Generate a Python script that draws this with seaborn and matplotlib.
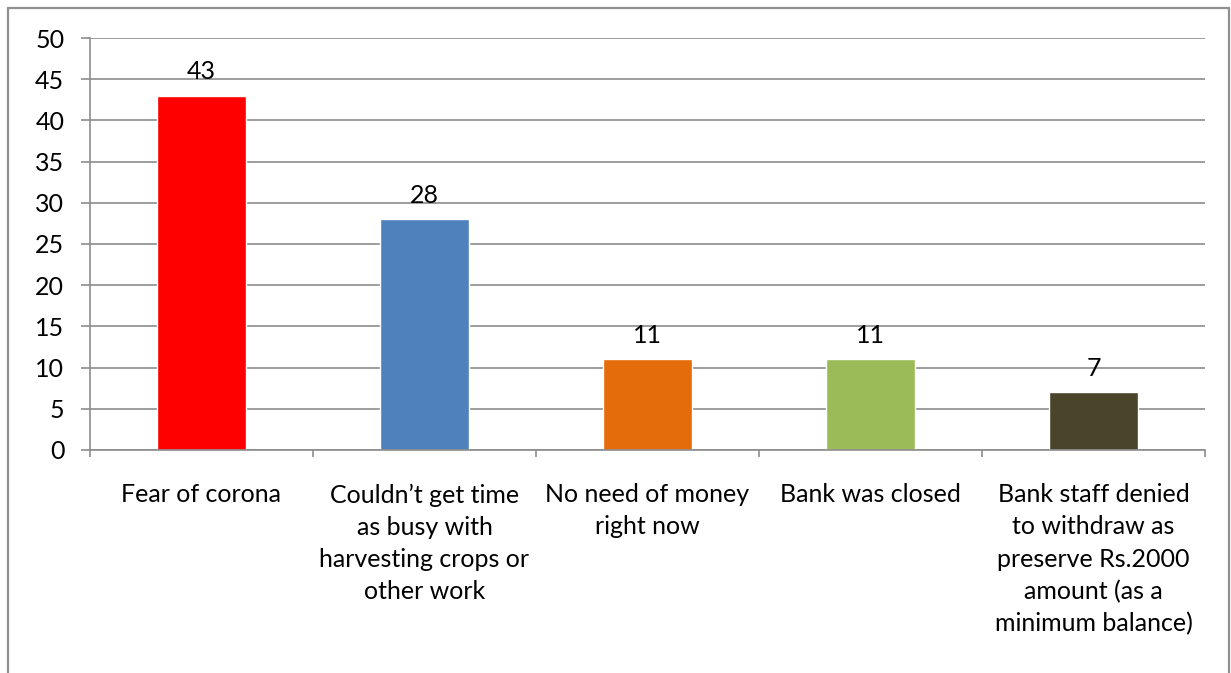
import matplotlib.pyplot as plt
import seaborn as sns
import pandas as pd
from matplotlib.lines import Line2D

categories = ["Fear of corona",
              "Couldn\u2019t get time\nas busy with\nharvesting crops or\nother work",
              "No need of money\nright now",
              "Bank was closed",
              "Bank staff denied\nto withdraw as\npreserve Rs.2000\namount (as a\nminimum balance)"]
values = [43, 28, 11, 11, 7]
colors = ["#FF0000", "#4F81BD", "#E46C0A", "#9BBB59", "#4A452A"]
y_ticks = [0, 5, 10, 15, 20, 25, 30, 35, 40, 45, 50]

sns.set_theme(style="white")
plt.rcParams['font.family'] = ['Lato', 'DejaVu Sans']

df = pd.DataFrame({"reason": categories, "count": values})

fig = plt.figure(figsize=(12.31, 6.73), dpi=100)
ax = fig.add_axes([0.0731, 0.3314, 0.9058, 0.6121])

sns.barplot(data=df, x="reason", y="count", hue="reason", palette=colors,
            width=0.4, legend=False, ax=ax, saturation=1)

fs = 18
grid_c = "#8c8c8c"
ax.set_ylim(0, 50)
ax.set_xlim(-0.5, len(categories) - 0.5)
ax.set_yticks(y_ticks)
ax.yaxis.grid(True, color=grid_c, linewidth=1.2)
ax.set_axisbelow(True)
for s in ["top", "right"]:
    ax.spines[s].set_visible(False)
for s in ["left", "bottom"]:
    ax.spines[s].set_color(grid_c)
    ax.spines[s].set_linewidth(1.2)

ax.tick_params(axis="y", direction="out", length=6.5, width=1.2, color=grid_c,
               pad=12, labelsize=fs, left=True)
ax.tick_params(axis="x", which="major", length=0, pad=24, labelsize=fs)
ax.set_xticks([i - 0.5 for i in range(len(categories) + 1)], minor=True)
ax.tick_params(axis="x", which="minor", direction="out", length=5, width=1.2,
               color=grid_c, bottom=True)
ax.set_xlabel("")
ax.set_ylabel("")
for lab in ax.get_xticklabels():
    lab.set_linespacing(1.48)
    lab.set_color("black")
for lab in ax.get_yticklabels():
    lab.set_color("black")

for cont in ax.containers:
    ax.bar_label(cont, fmt="%d", padding=9, fontsize=fs, color="black")

# outer chart border
bc = "#909090"
x0, x1, y1 = 8 / 1231, 1229 / 1231, 1 - 8 / 673
fig.add_artist(Line2D([x0, x0], [0, y1], color=bc, lw=1.6, transform=fig.transFigure))
fig.add_artist(Line2D([x0, x1], [y1, y1], color=bc, lw=1.6, transform=fig.transFigure))
fig.add_artist(Line2D([x1, x1], [0, y1], color=bc, lw=1.6, transform=fig.transFigure))

fig.savefig("out.png", dpi=100)
